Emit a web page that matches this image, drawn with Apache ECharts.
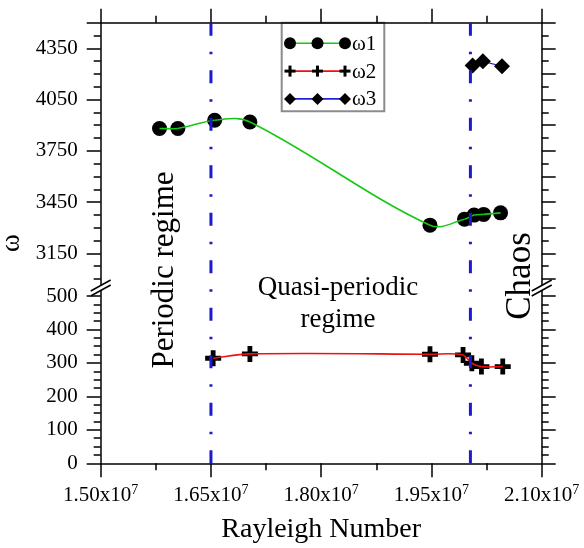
<!DOCTYPE html>
<html><head><meta charset="utf-8">
<script src="https://cdn.jsdelivr.net/npm/echarts@6/dist/echarts.min.js"></script>
<style>html,body{margin:0;padding:0;background:#fff}#c{width:584px;height:548px}</style>
</head><body><div id="c"></div>
<script>
// ---- data ----
const raOmega1 = [1.580e7, 1.605e7, 1.655e7, 1.703e7, 1.948e7, 1.995e7, 2.008e7, 2.021e7, 2.044e7];
const omega1   = [3881, 3881, 3929, 3919, 3315, 3350, 3374, 3378, 3387];
const raOmega2 = [1.653e7, 1.703e7, 1.948e7, 1.993e7, 2.005e7, 2.018e7, 2.047e7];
const omega2   = [314, 327, 326, 324, 299, 289, 289];
const raOmega3 = [2.006e7, 2.020e7, 2.046e7];
const omega3   = [4250, 4274, 4245];
const regimeBoundaries = [1.65e7, 2.003e7];
const seriesNames = ['ω1', 'ω2', 'ω3'];
const xMajorTicks = [1.50e7, 1.65e7, 1.80e7, 1.95e7, 2.10e7];
const xMinorTicks = [1.575e7, 1.725e7, 1.875e7, 2.025e7];
const yUpperLabels = [3150, 3450, 3750, 4050, 4350];
const yLowerLabels = [0, 100, 200, 300, 400, 500];
const annotations = ['Periodic regime', 'Quasi-periodic\nregime', 'Chaos'];

// ---- layout ----
const FONT = 'Liberation Serif';
const L = 100.7, R = 541.7, TOP = 22.7, BRK = 287, BOT = 463.3;
const upperRange = [2953, 4500], lowerRange = [0, 527];

function steps(a, b, s, skip) { const o = []; for (let v = a; v <= b + 1e-6; v += s) { if (!skip || !skip.includes(v)) o.push(v); } return o; }
const upLeftMajor = yUpperLabels.concat([4500]);
const upLeftMinor = steps(3000, 4425, 75, upLeftMajor);
const upRightMajor = steps(3000, 4500, 150);
const upRightMinor = steps(3075, 4425, 150);
const loMinor = steps(25, 475, 25, yLowerLabels);

const pair = (xs, ys) => xs.map((x, i) => [x, ys[i]]);
const PLUS = 'path://M-1.5,-5H1.5V-1.5H5V1.5H1.5V5H-1.5V1.5H-5V-1.5H-1.5Z';

const lineCol = '#000', lw = 1.5;
function yAx(grid, pos, range, major, len, labels, lineShow) {
  return {
    type: 'value', gridIndex: grid, position: pos, offset: 0, min: range[0], max: range[1],
    axisLine: { show: lineShow, lineStyle: { color: lineCol, width: lw } },
    axisTick: { show: true, inside: false, length: len, customValues: major, lineStyle: { color: lineCol, width: lw } },
    axisLabel: labels ? { show: true, customValues: labels, formatter: v => String(v), fontFamily: FONT, fontSize: 21, color: '#000', margin: 23 } : { show: false },
    splitLine: { show: false }
  };
}
function xAx(grid, pos, major, len, labels, lineShow) {
  const a = {
    type: 'value', gridIndex: grid, position: pos, offset: 0, min: 1.5e7, max: 2.1e7,
    axisLine: { show: lineShow, lineStyle: { color: lineCol, width: lw } },
    axisTick: { show: true, inside: false, length: len, customValues: major, lineStyle: { color: lineCol, width: lw } },
    axisLabel: { show: false },
    splitLine: { show: false }
  };
  if (labels) {
    a.axisLabel = {
      show: true, customValues: labels, margin: 20, color: '#000',
      formatter: v => (v / 1e7).toFixed(2) + 'x10{sup|7}',
      rich: {
        sup: { fontFamily: FONT, fontSize: 14, lineHeight: 15, verticalAlign: 'top', color: '#000' }
      },
      fontFamily: FONT, fontSize: 21, lineHeight: 25
    };
    a.name = 'Rayleigh Number';
    a.nameLocation = 'middle';
    a.nameGap = 52;
    a.nameTextStyle = { fontFamily: FONT, fontSize: 28, color: '#000', verticalAlign: 'top' };
  }
  return a;
}

const chart = echarts.init(document.getElementById('c'), null, { renderer: 'canvas' });

const gridBase = { left: L, width: R - L, containLabel: false, outerBoundsMode: 'none' };
const grids = [
  Object.assign({ top: TOP, height: BRK - TOP }, gridBase),
  Object.assign({ top: BRK, height: BOT - BRK }, gridBase),
  Object.assign({ top: TOP, height: BOT - TOP }, gridBase)
];

const xAxes = [
  xAx(0, 'top', xMajorTicks, 14, null, true),
  xAx(0, 'top', xMinorTicks, 7, null, false),
  xAx(1, 'bottom', xMajorTicks, 14, xMajorTicks, true),
  xAx(1, 'bottom', xMinorTicks, 7, null, false),
  { type: 'value', gridIndex: 2, min: 1.5e7, max: 2.1e7, show: false }
];
const yAxes = [
  yAx(0, 'left', upperRange, upLeftMajor, 14, yUpperLabels, true),
  yAx(0, 'left', upperRange, upLeftMinor, 7, null, false),
  yAx(0, 'right', upperRange, upRightMajor, 14, null, true),
  yAx(0, 'right', upperRange, upRightMinor, 7, null, false),
  yAx(1, 'left', lowerRange, yLowerLabels, 14, yLowerLabels, true),
  yAx(1, 'left', lowerRange, loMinor, 7, null, false),
  yAx(1, 'right', lowerRange, yLowerLabels, 14, null, true),
  yAx(1, 'right', lowerRange, loMinor, 7, null, false),
  {
    type: 'value', gridIndex: 2, min: 0, max: 1, position: 'left',
    axisLine: { show: false }, axisTick: { show: false }, axisLabel: { show: false }, splitLine: { show: false },
    name: 'ω', nameLocation: 'middle', nameGap: 75,
    nameTextStyle: { fontFamily: FONT, fontSize: 27, color: '#000' }
  }
];

// Smooth curve through the data points (cubic Hermite, slopes from neighbouring points),
// drawn segment by segment in pixel space obtained through the axes.
function splineRender(xs, ys, color, width) {
  return function (params, api) {
    const i = params.dataIndex;
    if (i >= xs.length - 1) return null;
    const P = xs.map((x, k) => api.coord([x, ys[k]]));
    const slope = k => {
      const a = P[Math.max(k - 1, 0)], b = P[Math.min(k + 1, P.length - 1)];
      return (b[1] - a[1]) / (b[0] - a[0]);
    };
    const p0 = P[i], p1 = P[i + 1], h = p1[0] - p0[0];
    const m0 = slope(i), m1 = slope(i + 1);
    return {
      type: 'bezierCurve',
      shape: {
        x1: p0[0], y1: p0[1], x2: p1[0], y2: p1[1],
        cpx1: p0[0] + h / 3, cpy1: p0[1] + m0 * h / 3,
        cpx2: p1[0] - h / 3, cpy2: p1[1] - m1 * h / 3
      },
      style: { stroke: color, lineWidth: width, fill: 'none' }
    };
  };
}

const boundarySeries = regimeBoundaries.map((b, i) => ({
  type: 'line', name: 'boundary' + i, xAxisIndex: 4, yAxisIndex: 8,
  data: [[b, 1], [b, 0]], showSymbol: false, silent: true, z: 10,
  lineStyle: { color: '#1a1acf', width: 3, type: [13, 16, 2.5, 16] }
}));

const mk = { color: '#000', opacity: 1 };
const series = [
  { type: 'scatter', name: seriesNames[0], xAxisIndex: 0, yAxisIndex: 0, data: pair(raOmega1, omega1),
    symbol: 'circle', symbolSize: 15, itemStyle: mk, z: 3 },
  { type: 'custom', name: seriesNames[0] + ' fit', xAxisIndex: 0, yAxisIndex: 0, data: pair(raOmega1, omega1),
    renderItem: splineRender(raOmega1, omega1, '#14c814', 1.6), silent: true, z: 4 },
  { type: 'scatter', name: seriesNames[1], xAxisIndex: 2, yAxisIndex: 4, data: pair(raOmega2, omega2),
    symbol: PLUS, symbolSize: 16, itemStyle: mk, z: 3 },
  { type: 'custom', name: seriesNames[1] + ' fit', xAxisIndex: 2, yAxisIndex: 4, data: pair(raOmega2, omega2),
    renderItem: splineRender(raOmega2, omega2, '#ee1111', 1.6), silent: true, z: 4 },
  { type: 'scatter', name: seriesNames[2], xAxisIndex: 0, yAxisIndex: 0, data: pair(raOmega3, omega3),
    symbol: 'diamond', symbolSize: [16, 16], itemStyle: mk, z: 3 },
  { type: 'line', name: seriesNames[2] + ' line', xAxisIndex: 0, yAxisIndex: 0, data: pair(raOmega3, omega3),
    showSymbol: false, lineStyle: { color: '#2222dd', width: 1.2 }, z: 2 }
].concat(boundarySeries);

// ---- legend (drawn as graphic to show three markers per entry) ----
const legX0 = 281.7, legY0 = TOP, legW = 102.6, legH = 88.5;
const legendColors = ['#14c814', '#ee1111', '#2222dd'];
const legendChildren = [{
  type: 'rect', shape: { x: legX0, y: legY0, width: legW, height: legH },
  style: { fill: '#fff', stroke: '#8c8c8c', lineWidth: 2 }
}];
seriesNames.forEach((nm, i) => {
  const yy = 43.3 + i * 27.8;
  legendChildren.push({ type: 'line', shape: { x1: 290, y1: yy, x2: 345, y2: yy }, style: { stroke: legendColors[i], lineWidth: 1.6 } });
  [290, 317.5, 345].forEach(xx => {
    if (i === 0) legendChildren.push({ type: 'circle', shape: { cx: xx, cy: yy, r: 6 }, style: { fill: '#000' } });
    else if (i === 1) {
      legendChildren.push({ type: 'rect', shape: { x: xx - 5.5, y: yy - 1.5, width: 11, height: 3 }, style: { fill: '#000' } });
      legendChildren.push({ type: 'rect', shape: { x: xx - 1.5, y: yy - 5.5, width: 3, height: 11 }, style: { fill: '#000' } });
    }
    else legendChildren.push({ type: 'polygon', shape: { points: [[xx, yy - 6], [xx + 6, yy], [xx, yy + 6], [xx - 6, yy]] }, style: { fill: '#000' } });
  });
  legendChildren.push({ type: 'text', x: 352, y: yy + 1, style: { text: nm, fontFamily: FONT, fontSize: 21, fill: '#000', verticalAlign: 'middle', align: 'left' } });
});

// ---- axis break marks ----
function breakMark(xc, yc) {
  return [
    { type: 'polygon', shape: { points: [[xc - 10, yc + 4], [xc + 10, yc - 7], [xc + 10, yc - 2], [xc - 10, yc + 9]] }, style: { fill: '#fff' }, z: 20 },
    { type: 'line', shape: { x1: xc - 10, y1: yc + 4, x2: xc + 10, y2: yc - 7 }, style: { stroke: '#000', lineWidth: 1.5 }, z: 21 },
    { type: 'line', shape: { x1: xc - 10, y1: yc + 9, x2: xc + 10, y2: yc - 2 }, style: { stroke: '#000', lineWidth: 1.5 }, z: 21 }
  ];
}

const textStyleBase = { fontFamily: FONT, fill: '#000', align: 'center', verticalAlign: 'middle' };
const graphics = [
  { type: 'group', z: 30, children: legendChildren },
  ...breakMark(L, BRK), ...breakMark(R, BRK),
  { type: 'text', x: 165, y: 270, rotation: Math.PI / 2, z: 15, style: Object.assign({ text: annotations[0], fontSize: 31 }, textStyleBase) },
  { type: 'text', x: 338, y: 304, z: 15, style: Object.assign({ text: annotations[1], fontSize: 27, lineHeight: 32 }, textStyleBase) },
  { type: 'text', x: 521, y: 276, rotation: Math.PI / 2, z: 15, style: Object.assign({ text: annotations[2], fontSize: 35 }, textStyleBase) }
];

chart.setOption({
  animation: false,
  backgroundColor: '#fff',
  textStyle: { fontFamily: FONT },
  grid: grids,
  xAxis: xAxes,
  yAxis: yAxes,
  series: series,
  graphic: graphics
});
</script>
</body></html>
